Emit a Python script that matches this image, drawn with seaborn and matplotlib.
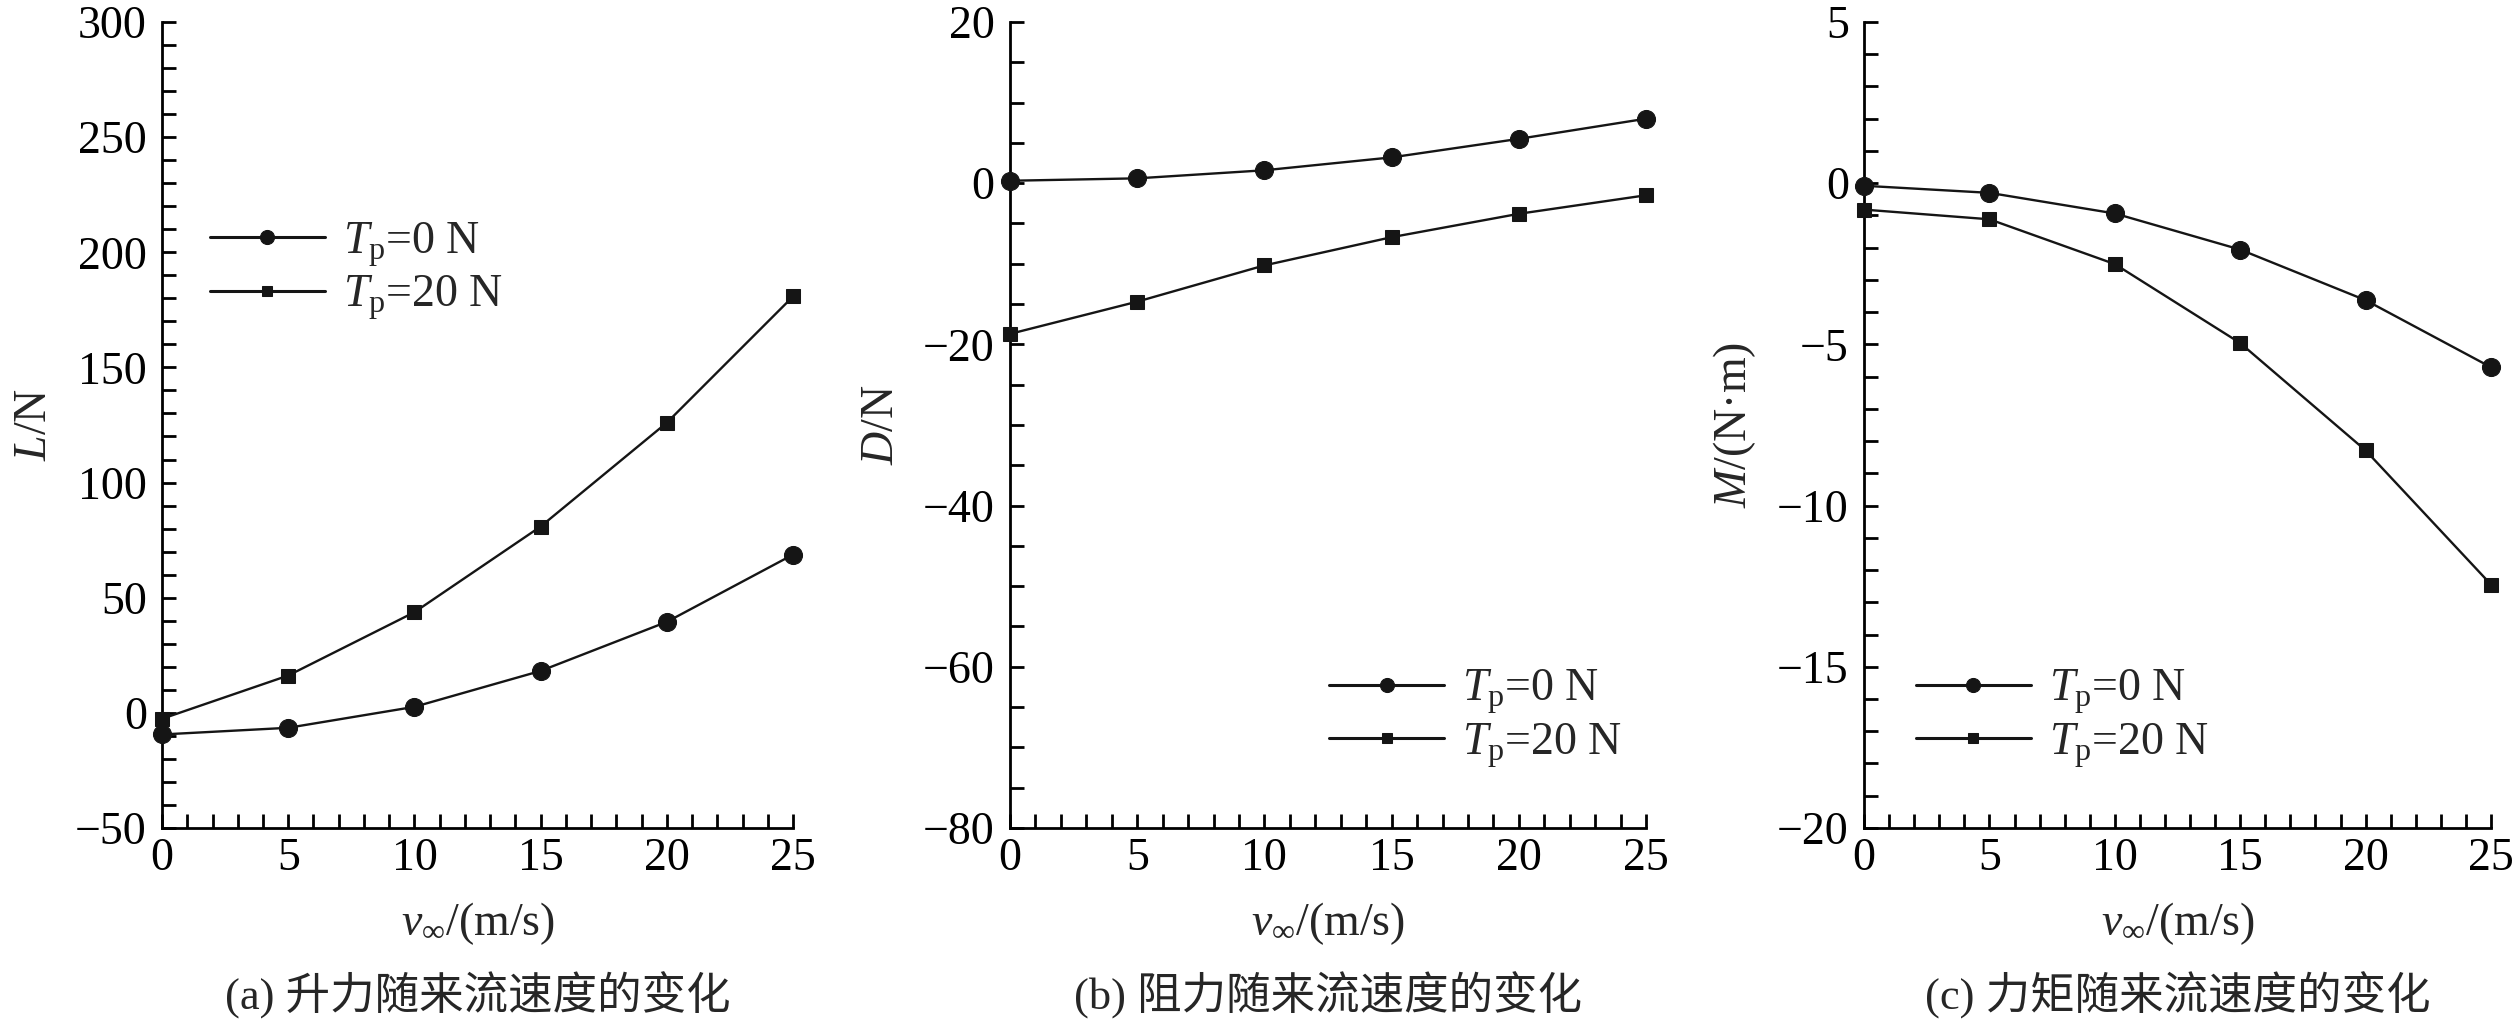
import numpy as np
import pandas as pd
import seaborn as sns
import matplotlib
matplotlib.use("Agg")
import matplotlib.pyplot as plt
from matplotlib.ticker import MultipleLocator

# --- data ---
speed = [0, 5, 10, 15, 20, 25]  # v_inf, m/s

lift_tp0 = [-9.4, -6.5, 2.6, 18.2, 39.5, 68.7]
lift_tp20 = [-2.6, 16.2, 43.7, 80.9, 126.0, 180.8]

drag_tp0 = [0.3, 0.6, 1.6, 3.2, 5.5, 8.0]
drag_tp20 = [-18.7, -14.7, -10.2, -6.7, -3.8, -1.5]

moment_tp0 = [-0.08, -0.3, -0.94, -2.06, -3.63, -5.71]
moment_tp20 = [-0.82, -1.12, -2.51, -4.96, -8.29, -12.45]

series_labels = ["$T_\\mathrm{p}$=0 N", "$T_\\mathrm{p}$=20 N"]
ylabels = ["$L$/N", "$D$/N", "$M$/(N·m)"]
captions = ["(a) 升力随来流速度的变化", "(b) 阻力随来流速度的变化", "(c) 力矩随来流速度的变化"]
ylims = [(-50, 300), (-80, 20), (-20, 5)]
ymajor = [50, 20, 5]
yminor = [10, 5, 1]

# --- style ---
sns.set_theme(style="ticks")
plt.rcParams["font.family"] = ["Liberation Serif", "Noto Sans CJK SC"]
plt.rcParams["mathtext.fontset"] = "custom"
plt.rcParams["mathtext.rm"] = "Liberation Serif"
plt.rcParams["mathtext.it"] = "Liberation Serif:italic"
plt.rcParams["axes.unicode_minus"] = True
FS = 33
for ax_name in ["xtick", "ytick"]:
    plt.rcParams[f"{ax_name}.direction"] = "in"
    plt.rcParams[f"{ax_name}.major.size"] = 10
    plt.rcParams[f"{ax_name}.minor.size"] = 10
    plt.rcParams[f"{ax_name}.major.width"] = 2
    plt.rcParams[f"{ax_name}.minor.width"] = 2
    plt.rcParams[f"{ax_name}.color"] = "black"

fig = plt.figure(figsize=(25.2, 10.27), dpi=100)
lefts = [0.0643, 0.4008, 0.7397]
widths = [0.2504, 0.2524, 0.2488]
legend_anchor = [(0.076, 0.754), (0.502, 0.199), (0.083, 0.199)]
panels = [(lift_tp0, lift_tp20), (drag_tp0, drag_tp20), (moment_tp0, moment_tp20)]

line_color = "#151515"
for i, (y0, y20) in enumerate(panels):
    ax = fig.add_axes([lefts[i], 0.1938, widths[i], 0.7848])
    sns.lineplot(x=speed, y=y0, ax=ax, color=line_color, lw=1.7, marker="o",
                 markersize=13, markeredgecolor=line_color, label=series_labels[0],
                 clip_on=False, zorder=3)
    sns.lineplot(x=speed, y=y20, ax=ax, color=line_color, lw=1.7, marker="s",
                 markersize=9.5, markeredgecolor=line_color, label=series_labels[1],
                 clip_on=False, zorder=3)

    ax.set_xlim(0, 25)
    ax.set_ylim(*ylims[i])
    ax.xaxis.set_major_locator(MultipleLocator(5))
    ax.xaxis.set_minor_locator(MultipleLocator(1))
    ax.yaxis.set_major_locator(MultipleLocator(ymajor[i]))
    ax.yaxis.set_minor_locator(MultipleLocator(yminor[i]))
    ax.tick_params(axis="x", which="both", labelsize=FS, pad=7)
    ax.tick_params(axis="y", which="both", labelsize=FS, pad=11)

    sns.despine(ax=ax)
    for side in ["left", "bottom"]:
        ax.spines[side].set_linewidth(2)
        ax.spines[side].set_color("black")

    ax.set_xlabel("$v_\\infty$/(m/s)", fontsize=FS, labelpad=14)
    ax.set_ylabel(ylabels[i], fontsize=FS, labelpad=14)

    leg = ax.legend(loc="upper left", bbox_to_anchor=legend_anchor[i], frameon=False,
                    fontsize=FS, handlelength=2.5, handletextpad=0.4, labelspacing=0.12,
                    borderpad=0, borderaxespad=0, markerscale=0.78)
    for h in leg.get_lines():
        h.set_linewidth(2.2)

    ax.text(0.5, -0.207, captions[i], transform=ax.transAxes, ha="center",
            va="center", fontsize=FS - 1)

fig.savefig("out.png", dpi=100)
plt.close(fig)
